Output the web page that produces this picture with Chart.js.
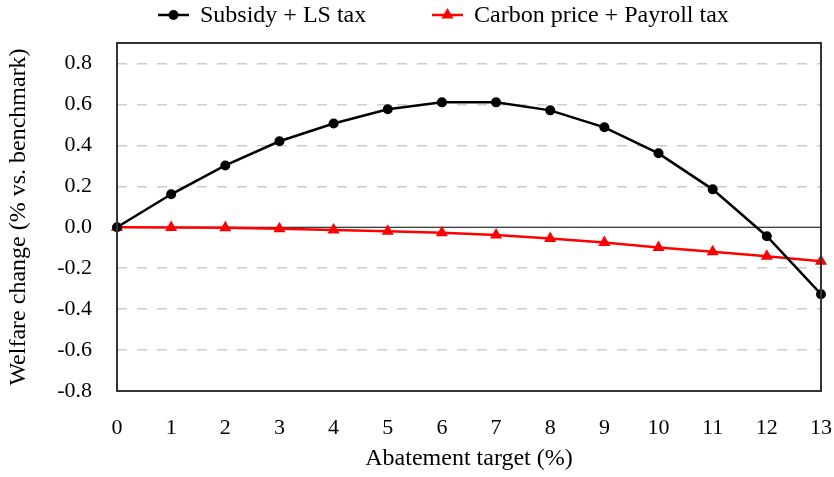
<!DOCTYPE html>
<html>
<head>
<meta charset="utf-8">
<script src="https://cdn.jsdelivr.net/npm/chart.js@4.4.1/dist/chart.umd.min.js"></script>
<style>
  body { margin: 0; background: #fff; }
  #wrap { width: 834px; height: 477px; position: relative; }
</style>
</head>
<body>
<div id="wrap"><canvas id="myChart"></canvas></div>
<script>
// abatement target (%)
let targets = ['0', '1', '2', '3', '4', '5', '6', '7', '8', '9', '10', '11', '12', '13'];
let subsidyLS = [0, 0.161, 0.302, 0.42, 0.507, 0.576, 0.61, 0.61, 0.571, 0.488, 0.361, 0.185, -0.044, -0.327];
let carbonPayroll = [0, -0.001, -0.003, -0.007, -0.013, -0.02, -0.027, -0.038, -0.055, -0.075, -0.099, -0.12, -0.142, -0.166];
let seriesNames = ['Subsidy + LS tax', 'Carbon price + Payroll tax'];
let yTicks = [-0.8, -0.6, -0.4, -0.2, 0, 0.2, 0.4, 0.6, 0.8];

let serif = "'Liberation Serif', 'Times New Roman', serif";

// frame, zero line and legend (line + marker + text)
let extras = {
    id: 'extras',
    beforeDatasetsDraw(chart) {
        let c = chart.ctx, a = chart.chartArea;
        let y0 = chart.scales.y.getPixelForValue(0);
        c.save();
        c.strokeStyle = '#000';
        c.lineWidth = 1.2;
        c.beginPath();
        c.moveTo(a.left, y0);
        c.lineTo(a.right, y0);
        c.stroke();
        c.restore();
    },
    afterDraw(chart) {
        let c = chart.ctx, a = chart.chartArea;
        c.save();
        c.strokeStyle = '#333';
        c.lineWidth = 2;
        c.strokeRect(a.left, a.top, a.right - a.left, a.bottom - a.top);

        let items = [
            { x: 158, text: seriesNames[0], color: '#000', style: 'circle' },
            { x: 432, text: seriesNames[1], color: '#ff0000', style: 'triangle' }
        ];
        let y = 15;
        c.font = '24px ' + serif;
        c.textBaseline = 'middle';
        items.forEach(it => {
            c.strokeStyle = it.color;
            c.fillStyle = it.color;
            c.lineWidth = 2.5;
            c.beginPath();
            c.moveTo(it.x, y);
            c.lineTo(it.x + 31, y);
            c.stroke();
            Chart.helpers.drawPoint(c, { pointStyle: it.style, radius: it.style === 'circle' ? 5 : 7, rotation: 0, borderWidth: 0 }, it.x + 15.5, y);
            c.fillStyle = '#000';
            c.fillText(it.text, it.x + 42, y + 1);
        });
        c.restore();
    }
};

let ctx = document.getElementById('myChart').getContext('2d');
let chart = new Chart(ctx, {
    type: 'line',
    data: {
        labels: targets,
        datasets: [
            {
                label: seriesNames[0],
                data: subsidyLS,
                borderColor: '#000',
                backgroundColor: '#000',
                borderWidth: 2.5,
                pointStyle: 'circle',
                pointRadius: 5,
                pointBorderWidth: 0,
                tension: 0
            },
            {
                label: seriesNames[1],
                data: carbonPayroll,
                borderColor: '#ff0000',
                backgroundColor: '#ff0000',
                borderWidth: 2.5,
                pointStyle: 'triangle',
                pointRadius: 7,
                pointBorderWidth: 0,
                tension: 0
            }
        ]
    },
    options: {
        responsive: true,
        maintainAspectRatio: false,
        animation: false,
        layout: { padding: { top: 43, right: 0, left: 0, bottom: 0 } },
        plugins: {
            legend: { display: false },
            tooltip: { enabled: false }
        },
        scales: {
            x: {
                offset: false,
                grid: { display: false },
                border: { display: false },
                ticks: { color: '#000', font: { family: serif, size: 22 }, padding: 16, maxRotation: 0, autoSkip: false },
                title: { display: true, text: 'Abatement target (%)', color: '#000', font: { family: serif, size: 24 }, padding: { top: 10 } },
                afterFit(scale) {
                    scale.height = 86;
                    scale.paddingLeft = 0;
                    scale.paddingRight = 13;
                }
            },
            y: {
                min: -0.8,
                max: 0.9,
                afterBuildTicks(scale) { scale.ticks = yTicks.map(v => ({ value: v })); },
                grid: {
                    color: c => (c.tick && c.tick.value === 0) ? 'rgba(0,0,0,0)' : '#cccccc',
                    lineWidth: 1.5,
                    drawTicks: false
                },
                border: { display: false, dash: [10, 10] },
                ticks: {
                    color: '#000',
                    font: { family: serif, size: 22 },
                    padding: 25,
                    callback: v => v.toFixed(1)
                },
                title: { display: true, text: 'Welfare change (% vs. benchmark)', color: '#000', font: { family: serif, size: 24 }, padding: { bottom: 0 } },
                afterFit(scale) { scale.width = 117; }
            }
        }
    },
    plugins: [extras]
});
</script>
</body>
</html>
